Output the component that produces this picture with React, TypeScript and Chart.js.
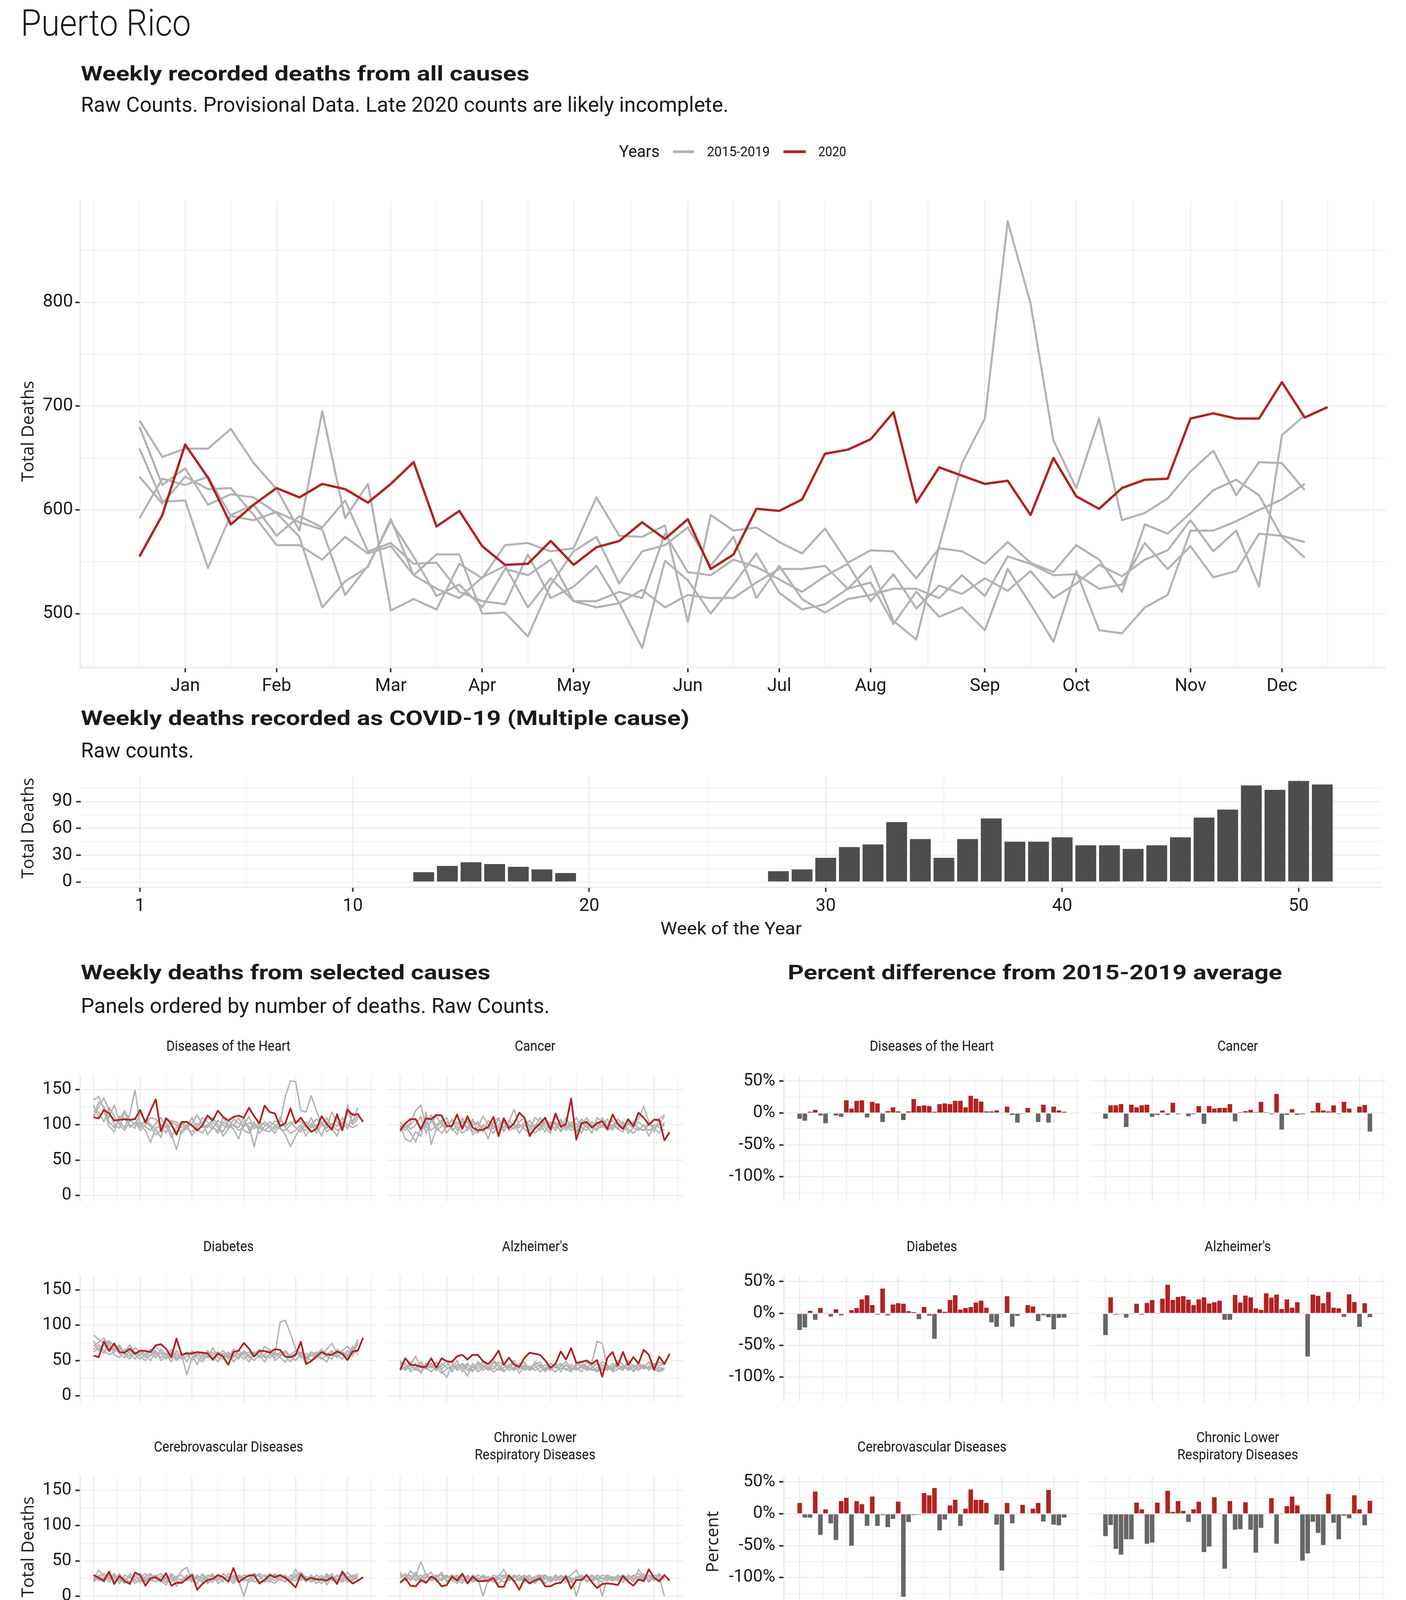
import React, { useEffect, useLayoutEffect, useRef } from "react";
import { Chart, registerables } from "chart.js";

Chart.register(...registerables);

// ---------------- fonts & colours ----------------
const COND = 'Roboto, "Liberation Sans Narrow", "Noto Sans", sans-serif';
const REG = '"Open Sans", "Liberation Sans", sans-serif';
const RED = "#B22222";
const GREY_LINE = "#B3B3B3";
const BAR_DARK = "#4D4D4D";
const NEG_GREY = "#666666";
const GRID = "#EBEBEB";
const TEXT = "#1A1A1A";

// ---------------- data: all causes (top panel) ----------------
const monthLabels = ["Jan", "Feb", "Mar", "Apr", "May", "Jun", "Jul", "Aug", "Sep", "Oct", "Nov", "Dec"];
const monthWeeks = [3, 7, 12, 16, 20, 25, 29, 33, 38, 42, 47, 51];

const all2020 = [555, 595, 663, 631, 586, 605, 621, 612, 625, 620, 607, 625, 646, 584, 599, 565, 547, 548, 570, 547, 564, 570, 588, 572, 591, 543, 557, 601, 599, 610, 654, 658, 668, 694, 607, 641, 633, 625, 628, 595, 650, 613, 601, 621, 629, 630, 688, 693, 688, 688, 723, 689, 699];
const all2015 = [686, 651, 659, 659, 678, 645, 620, 580, 695, 592, 625, 503, 514, 504, 548, 534, 566, 568, 560, 563, 612, 575, 574, 585, 492, 595, 580, 583, 569, 558, 582, 549, 561, 560, 534, 563, 560, 548, 569, 549, 540, 566, 552, 521, 586, 577, 597, 619, 629, 614, 574, 554];
const all2016 = [680, 624, 640, 605, 615, 612, 597, 574, 506, 531, 545, 591, 537, 557, 557, 500, 501, 478, 528, 560, 574, 529, 560, 566, 583, 546, 574, 515, 546, 514, 501, 514, 518, 524, 524, 515, 537, 517, 555, 548, 537, 538, 524, 528, 568, 543, 565, 535, 541, 577, 575, 569];
const all2017 = [659, 608, 609, 544, 595, 605, 575, 594, 583, 609, 560, 568, 548, 549, 521, 512, 509, 557, 515, 526, 546, 510, 467, 551, 532, 500, 528, 558, 520, 504, 509, 524, 546, 493, 475, 565, 645, 688, 878, 799, 667, 621, 688, 590, 597, 611, 637, 657, 614, 646, 645, 619];
const all2018 = [632, 606, 632, 620, 621, 595, 566, 566, 552, 574, 558, 565, 537, 524, 515, 535, 546, 506, 534, 512, 506, 510, 523, 506, 518, 515, 515, 530, 543, 543, 546, 524, 530, 490, 521, 497, 506, 484, 543, 509, 473, 541, 484, 481, 506, 518, 580, 580, 589, 600, 610, 625];
const all2019 = [592, 630, 624, 632, 594, 590, 598, 588, 581, 518, 546, 589, 555, 517, 528, 506, 543, 537, 552, 512, 512, 521, 515, 577, 540, 537, 552, 545, 533, 521, 536, 548, 512, 538, 505, 527, 519, 534, 522, 541, 515, 529, 547, 536, 552, 561, 590, 560, 580, 526, 672, 691];

// ---------------- data: COVID-19 weekly deaths (weeks 1-51) ----------------
const covidDeaths = [0, 0, 0, 0, 0, 0, 0, 0, 0, 0, 0, 0, 11, 18, 22, 20, 17, 14, 10, 0, 0, 0, 0, 0, 0, 0, 0, 12, 14, 27, 39, 42, 67, 48, 27, 48, 71, 45, 45, 50, 41, 41, 37, 41, 50, 72, 81, 108, 103, 113, 109];

// ---------------- data: selected causes (2020 = 53 weeks, 2015-2019 = 52 weeks) ----------------
const heart2020 = [110.5, 109, 121, 116, 106, 107, 108, 107, 108, 121, 103, 120, 136, 91, 109, 101, 86, 104, 104, 99, 92, 99, 113, 106, 120, 111, 106, 111, 113, 110, 124, 112, 102, 127, 118, 116, 98, 102, 123, 102, 110, 99, 90, 94, 112, 101, 93, 115, 92, 121, 114, 115, 104];
const heart2015 = [112, 125, 138, 120, 100, 95, 118, 108, 99, 104, 97, 92, 102, 110, 95, 98, 90, 100, 105, 98, 102, 96, 100, 94, 106, 99, 95, 100, 92, 97, 103, 99, 95, 92, 98, 105, 104, 140, 162, 161, 120, 118, 141, 120, 100, 95, 102, 98, 110, 100, 104, 112];
const heart2016 = [135, 140, 122, 110, 128, 104, 96, 115, 149, 100, 92, 75, 96, 98, 104, 88, 65, 92, 98, 110, 94, 88, 100, 104, 96, 90, 106, 98, 110, 92, 88, 100, 96, 104, 99, 93, 110, 96, 88, 92, 100, 84, 98, 108, 104, 96, 118, 104, 92, 128, 100, 108];
const heart2017 = [128, 110, 120, 98, 90, 112, 108, 100, 95, 118, 104, 98, 86, 92, 100, 82, 96, 104, 94, 90, 98, 104, 86, 96, 92, 110, 100, 94, 80, 104, 98, 69, 100, 92, 90, 98, 96, 86, 69, 84, 96, 92, 102, 88, 100, 110, 96, 84, 104, 94, 116, 110];
const heart2018 = [120, 118, 104, 125, 112, 100, 92, 105, 110, 96, 108, 100, 94, 82, 110, 104, 100, 88, 96, 102, 114, 100, 96, 110, 100, 84, 94, 108, 102, 98, 112, 94, 104, 100, 96, 88, 100, 98, 104, 96, 90, 104, 96, 100, 84, 104, 100, 92, 96, 100, 96, 100];
const heart2019 = [110, 132, 126, 104, 96, 108, 120, 96, 104, 92, 100, 110, 108, 100, 88, 106, 104, 96, 100, 84, 96, 110, 104, 98, 88, 104, 98, 100, 96, 110, 92, 104, 88, 98, 104, 100, 94, 92, 100, 106, 104, 96, 110, 94, 104, 90, 96, 110, 100, 118, 104, 124];

const cancer2020 = [92, 102, 108, 108, 94, 109, 108, 114, 113, 98, 98, 114.5, 94, 112, 96, 92, 93, 97, 111, 84, 109, 95, 102, 117, 110, 84, 95, 102, 110, 93, 116, 97, 101, 137, 79, 102, 104, 96, 102, 105, 94, 114.5, 101, 94, 108, 98, 117, 110, 100, 107, 107, 78, 89.5];
const cancer2015 = [98, 92, 104, 120, 128, 96, 104, 112, 100, 96, 108, 92, 100, 104, 90, 96, 112, 100, 94, 108, 96, 104, 122, 98, 100, 92, 110, 104, 96, 88, 112, 100, 96, 104, 92, 100, 110, 98, 104, 96, 100, 106, 94, 98, 104, 100, 108, 126, 104, 96, 100, 112];
const cancer2016 = [100, 80, 76, 90, 84, 118, 72, 96, 104, 110, 92, 98, 88, 94, 104, 100, 96, 80, 104, 96, 92, 100, 94, 104, 110, 96, 100, 92, 104, 98, 96, 108, 92, 100, 110, 96, 92, 104, 98, 100, 92, 96, 108, 100, 94, 88, 96, 92, 100, 108, 104, 98];
const cancer2017 = [96, 102, 94, 100, 112, 88, 108, 92, 98, 104, 96, 86, 110, 92, 100, 104, 90, 106, 98, 92, 110, 96, 102, 88, 100, 106, 94, 100, 90, 104, 100, 92, 110, 96, 102, 88, 104, 96, 92, 110, 98, 100, 94, 90, 102, 96, 104, 98, 92, 96, 88, 104];
const cancer2018 = [90, 98, 88, 76, 96, 104, 92, 100, 106, 88, 100, 104, 96, 108, 86, 92, 100, 96, 88, 100, 104, 92, 96, 100, 94, 88, 96, 110, 100, 94, 104, 90, 100, 92, 96, 108, 100, 88, 110, 104, 92, 100, 96, 104, 88, 96, 92, 100, 84, 100, 96, 92];
const cancer2019 = [104, 96, 100, 108, 92, 100, 114, 96, 88, 98, 106, 100, 104, 96, 108, 88, 100, 94, 104, 110, 90, 106, 98, 96, 104, 100, 88, 96, 108, 100, 92, 104, 96, 100, 88, 104, 96, 100, 94, 98, 108, 92, 104, 96, 100, 104, 94, 92, 104, 90, 108, 114];

const diabetes2020 = [57, 54.7, 77, 64, 74, 62, 61, 66.7, 59.5, 64, 63.5, 62, 71.5, 73, 66.7, 54.7, 81, 58, 60, 60, 62, 61, 60, 51.4, 60, 55.5, 44, 62, 64, 74.8, 66.7, 55.5, 63.5, 63.5, 61, 66, 65, 55.5, 54.7, 58, 76.4, 45, 49, 55.5, 62, 58.7, 58, 62.7, 59.5, 50.6, 62.7, 64, 82];
const diabetes2015 = [86, 80, 74, 78, 70, 66, 62, 72, 60, 58, 64, 56, 70, 62, 58, 66, 52, 60, 48, 64, 58, 62, 54, 68, 56, 60, 52, 66, 58, 62, 54, 60, 56, 70, 64, 58, 104, 107, 88, 66, 58, 54, 62, 58, 66, 56, 60, 54, 62, 58, 60, 64];
const diabetes2016 = [70, 76, 82, 70, 64, 72, 60, 56, 68, 62, 54, 66, 58, 60, 52, 62, 56, 58, 30, 54, 60, 56, 62, 50, 58, 64, 56, 54, 60, 52, 58, 62, 54, 58, 66, 50, 56, 62, 54, 60, 58, 46, 62, 56, 52, 58, 64, 56, 60, 54, 66, 72];
const diabetes2017 = [62, 68, 60, 76, 58, 54, 66, 60, 52, 64, 58, 50, 62, 54, 60, 48, 64, 56, 60, 50, 58, 52, 64, 56, 48, 60, 54, 60, 52, 64, 56, 50, 58, 48, 60, 54, 62, 56, 48, 58, 62, 56, 50, 60, 54, 48, 62, 58, 52, 64, 56, 76];
const diabetes2018 = [78, 64, 72, 62, 68, 60, 54, 64, 58, 52, 60, 62, 54, 66, 58, 60, 50, 56, 62, 58, 44, 60, 54, 58, 62, 56, 60, 48, 56, 60, 62, 58, 66, 54, 58, 62, 54, 48, 58, 64, 54, 60, 56, 62, 58, 66, 74, 60, 64, 70, 62, 80];
const diabetes2019 = [66, 72, 64, 58, 62, 70, 58, 52, 62, 56, 50, 58, 64, 50, 56, 54, 60, 52, 56, 62, 54, 48, 58, 62, 54, 52, 62, 56, 64, 58, 48, 60, 62, 56, 54, 60, 58, 64, 56, 50, 60, 52, 58, 54, 62, 56, 52, 66, 60, 56, 70, 58];

const alz2020 = [37, 53, 44, 43.4, 41, 41, 53, 40, 53, 49, 48, 56, 58, 51.4, 58, 58, 49, 45, 53, 64, 44, 54, 44, 41, 54, 61, 59.5, 58, 50, 39.4, 45.8, 62.7, 51.4, 67.5, 46.6, 48, 50, 45, 50.6, 27.3, 54, 62, 42.6, 62, 43.4, 54.7, 45.8, 65, 58, 37, 55.5, 45, 59.5];
const alz2015 = [48, 36, 44, 56, 40, 38, 46, 36, 42, 50, 34, 44, 40, 28, 46, 38, 44, 36, 48, 40, 34, 42, 50, 38, 44, 36, 48, 42, 34, 46, 40, 38, 44, 36, 42, 48, 40, 46, 77, 74, 40, 36, 44, 38, 46, 34, 42, 40, 48, 36, 40, 38];
const alz2016 = [50, 42, 38, 46, 32, 44, 40, 48, 36, 26, 44, 38, 46, 40, 34, 48, 42, 38, 50, 44, 36, 40, 46, 32, 42, 38, 44, 48, 36, 40, 46, 34, 44, 38, 40, 34, 48, 42, 36, 44, 38, 46, 40, 36, 50, 42, 38, 44, 36, 46, 42, 48];
const alz2017 = [44, 46, 34, 40, 48, 38, 42, 36, 46, 40, 38, 50, 34, 44, 40, 46, 36, 42, 38, 48, 44, 36, 40, 46, 38, 42, 36, 40, 44, 38, 34, 42, 48, 40, 36, 44, 38, 40, 46, 36, 42, 38, 50, 44, 36, 40, 46, 42, 38, 44, 36, 40];
const alz2018 = [40, 38, 48, 36, 44, 40, 34, 42, 38, 44, 50, 36, 40, 46, 36, 42, 48, 40, 34, 38, 46, 40, 36, 42, 48, 36, 40, 44, 38, 42, 40, 46, 36, 44, 38, 40, 42, 36, 40, 48, 44, 34, 38, 42, 40, 36, 44, 38, 42, 40, 48, 44];
const alz2019 = [36, 40, 42, 38, 34, 46, 44, 40, 32, 38, 42, 40, 44, 36, 42, 34, 40, 46, 42, 36, 40, 44, 38, 42, 36, 40, 44, 34, 40, 36, 42, 44, 38, 34, 46, 42, 36, 38, 34, 40, 36, 42, 44, 40, 38, 44, 36, 42, 40, 38, 34, 38];

const cerebro2020 = [30, 26, 22, 35, 17.4, 28.6, 21.4, 17.4, 33.4, 30, 15, 25.4, 27, 22, 32.6, 15, 19, 19, 24.6, 30, 9.3, 17.4, 23, 24.6, 30, 27, 20.6, 39.9, 19.8, 25.4, 29.4, 30, 18, 23, 30, 27, 30, 26, 19.8, 12.5, 31, 23, 26, 23.8, 23.8, 22, 27, 17.4, 35, 24.6, 18, 22, 27];
const cerebro2015 = [24, 37, 28, 20, 30, 26, 18, 32, 24, 28, 20, 26, 30, 22, 16, 28, 24, 36, 41, 22, 26, 30, 18, 24, 28, 20, 32, 26, 22, 0, 24, 28, 30, 20, 26, 32, 22, 28, 24, 38, 26, 22, 30, 24, 18, 28, 26, 22, 30, 24, 28, 32];
const cerebro2016 = [30, 22, 26, 32, 20, 28, 24, 18, 30, 22, 28, 32, 24, 20, 26, 30, 14, 24, 28, 20, 30, 22, 26, 32, 18, 24, 28, 22, 30, 26, 20, 24, 32, 28, 22, 18, 26, 30, 22, 28, 34, 26, 20, 24, 30, 16, 28, 24, 20, 26, 30, 24];
const cerebro2017 = [20, 28, 32, 24, 28, 18, 30, 26, 22, 20, 26, 22, 28, 32, 24, 20, 28, 30, 22, 26, 18, 32, 24, 20, 30, 26, 22, 28, 24, 30, 28, 20, 24, 30, 26, 22, 30, 24, 20, 32, 22, 28, 26, 18, 24, 30, 22, 28, 32, 20, 24, 28];
const cerebro2018 = [26, 24, 20, 30, 24, 32, 22, 28, 18, 26, 32, 24, 20, 28, 30, 24, 22, 18, 26, 32, 24, 20, 30, 28, 22, 32, 26, 18, 28, 24, 30, 28, 20, 24, 32, 26, 24, 20, 30, 26, 28, 24, 22, 30, 26, 24, 32, 20, 26, 28, 22, 26];
const cerebro2019 = [22, 30, 24, 26, 32, 22, 26, 20, 28, 32, 22, 30, 26, 24, 20, 32, 26, 22, 30, 24, 28, 26, 20, 30, 24, 28, 20, 30, 26, 22, 24, 32, 28, 22, 20, 30, 28, 26, 24, 22, 30, 20, 28, 26, 22, 32, 24, 30, 22, 34, 26, 30];

const clrd2020 = [19, 25.4, 15, 14, 23, 19, 27.8, 23.8, 14, 15.8, 27.8, 22, 31.8, 18, 27.8, 21.4, 21.4, 22, 26, 13.3, 13.3, 29.4, 21.4, 9.3, 24.6, 18, 22, 25.4, 14, 14, 18, 19, 27.8, 10.9, 23, 23, 30, 19.8, 11.7, 17.4, 18, 17.4, 15.8, 28.6, 20.6, 15, 23.8, 21.4, 38, 26, 21.4, 30, 22];
const clrd2015 = [30, 24, 36, 28, 49, 30, 22, 26, 34, 20, 28, 24, 18, 30, 22, 26, 0, 24, 20, 28, 38, 24, 30, 26, 20, 28, 24, 30, 18, 26, 22, 28, 20, 26, 0, 24, 30, 22, 28, 0, 26, 22, 30, 24, 28, 20, 38, 26, 22, 30, 28, 0];
const clrd2016 = [26, 32, 22, 30, 24, 28, 34, 20, 26, 30, 22, 28, 24, 20, 30, 26, 22, 28, 24, 18, 26, 30, 22, 24, 28, 20, 26, 22, 30, 24, 28, 20, 26, 30, 37, 22, 26, 30, 24, 20, 28, 24, 22, 30, 26, 24, 28, 22, 30, 26, 32, 24];
const clrd2017 = [34, 22, 28, 24, 30, 20, 26, 30, 22, 28, 24, 18, 28, 26, 20, 24, 28, 22, 30, 26, 20, 24, 28, 22, 26, 30, 18, 26, 24, 28, 22, 30, 24, 20, 26, 28, 22, 24, 30, 26, 22, 28, 24, 20, 30, 26, 22, 28, 24, 26, 20, 28];
const clrd2018 = [20, 28, 30, 22, 26, 32, 24, 28, 30, 22, 26, 30, 22, 28, 24, 30, 26, 20, 24, 30, 28, 22, 26, 30, 22, 24, 28, 30, 26, 22, 30, 24, 28, 26, 22, 30, 20, 28, 24, 30, 28, 22, 26, 30, 24, 28, 32, 24, 28, 22, 30, 26];
const clrd2019 = [28, 30, 24, 34, 20, 26, 28, 22, 24, 26, 30, 26, 32, 24, 28, 22, 30, 26, 20, 24, 30, 28, 20, 26, 30, 24, 22, 28, 30, 20, 26, 24, 30, 22, 28, 26, 30, 20, 26, 24, 30, 26, 28, 24, 22, 30, 26, 32, 20, 28, 24, 30];

const kidney2020 = [1, 14.8, 25.6, 12.7, 18, 21.6, 12.7, 22.5, 24.7, 11.7, 19.4, 17.3, 26.9, 13.3, 24.7, 14.8, 12.3, 19.4, 0, 19.4, 19.4, 17, 19.4, 0, 17, 16.4, 19.4, 16.4, 16.4, 21, 12.7, 26.5, 22.5, 17.3, 11.7, 19.4, 21, 17.9, 19.4, 24, 24, 16.4, 14.8, 17.9, 10.2, 17.9, 24, 19.4, 12.7, 17.9, 26.5, 16.4, 24.7];
const kidney2015 = [24, 18, 29, 20, 16, 22, 14, 20, 18, 24, 16, 20, 0, 18, 22, 16, 28, 14, 20, 16, 24, 12, 18, 20, 14, 28, 16, 20, 22, 14, 18, 20, 16, 22, 18, 14, 20, 26, 16, 22, 18, 20, 14, 24, 18, 22, 16, 20, 24, 14, 28, 20];
const kidney2016 = [16, 22, 18, 14, 24, 12, 20, 16, 22, 14, 20, 18, 16, 24, 0, 20, 14, 18, 22, 16, 12, 20, 24, 18, 16, 12, 20, 0, 18, 22, 16, 0, 20, 14, 18, 22, 16, 20, 14, 0, 18, 22, 16, 20, 14, 18, 22, 20, 16, 18, 20, 16];
const kidney2017 = [20, 14, 22, 26, 18, 20, 16, 24, 14, 20, 18, 22, 20, 16, 18, 14, 22, 0, 16, 20, 18, 0, 20, 16, 22, 18, 24, 16, 0, 20, 18, 14, 0, 18, 0, 20, 16, 22, 18, 16, 20, 14, 0, 18, 22, 16, 20, 14, 18, 22, 16, 20];
const kidney2018 = [18, 20, 16, 22, 14, 24, 18, 14, 20, 16, 22, 16, 14, 20, 16, 22, 18, 16, 20, 14, 22, 18, 16, 20, 18, 14, 18, 22, 20, 16, 14, 22, 18, 0, 16, 18, 22, 14, 20, 18, 22, 16, 20, 14, 18, 20, 16, 22, 18, 20, 24, 18];
const kidney2019 = [22, 16, 20, 18, 22, 16, 24, 18, 16, 22, 14, 20, 18, 14, 20, 18, 16, 22, 14, 20, 16, 22, 18, 14, 20, 16, 22, 18, 16, 24, 20, 18, 22, 16, 20, 0, 18, 20, 22, 14, 16, 18, 22, 20, 16, 14, 18, 20, 22, 16, 18, 22];

const flu2020 = [13.3, 14.8, 23.5, 20, 22.5, 25, 20, 14.8, 21, 27.2, 23, 28, 16.4, 17.3, 11.7, 19.4, 12.7, 10.2, 14.8, 9.6, 10.2, 11.1, 9.6, 10.2, 0, 11.7, 0, 12.3, 12.3, 17, 13.3, 13.3, 17.9, 0, 24, 9.6, 0, 17.9, 0, 20, 17.9, 0, 17, 13.3, 13.3, 17, 21, 14.8, 11.7, 20, 9.6, 21, 17];
const flu2015 = [24, 22, 26, 30, 20, 24, 28, 22, 18, 0, 16, 20, 14, 0, 18, 12, 16, 14, 10, 16, 0, 14, 12, 16, 10, 14, 12, 16, 14, 0, 12, 16, 14, 0, 18, 12, 14, 16, 30, 0, 18, 14, 16, 20, 14, 18, 16, 20, 14, 18, 22, 16];
const flu2016 = [20, 26, 22, 18, 28, 24, 20, 26, 22, 16, 18, 0, 20, 14, 0, 0, 0, 16, 12, 14, 18, 12, 14, 0, 16, 12, 14, 10, 16, 12, 14, 18, 12, 16, 0, 14, 18, 12, 14, 20, 16, 18, 14, 0, 0, 16, 22, 18, 16, 20, 18, 24];
const flu2017 = [18, 16, 20, 24, 22, 18, 26, 20, 24, 20, 14, 18, 16, 18, 12, 16, 14, 12, 16, 10, 14, 16, 10, 14, 12, 16, 10, 14, 12, 16, 18, 12, 16, 12, 14, 16, 12, 18, 16, 14, 22, 16, 18, 14, 16, 12, 18, 14, 0, 16, 24, 20];
const flu2018 = [26, 20, 18, 22, 26, 28, 22, 18, 20, 24, 16, 14, 18, 16, 14, 12, 16, 18, 14, 12, 10, 14, 16, 12, 14, 10, 16, 12, 14, 18, 12, 14, 10, 16, 12, 18, 14, 16, 20, 14, 12, 18, 20, 16, 14, 18, 20, 22, 16, 18, 20, 14];
const flu2019 = [22, 24, 28, 20, 24, 22, 18, 24, 16, 20, 22, 16, 14, 20, 16, 14, 12, 10, 18, 14, 16, 10, 14, 18, 12, 14, 18, 16, 12, 14, 16, 10, 18, 14, 16, 12, 16, 14, 18, 12, 16, 14, 12, 18, 20, 22, 18, 16, 20, 24, 26, 18];

const sept2020 = [0, 16, 16, 13, 13, 13, 17.6, 13, 17.6, 16, 15, 0.6, 8.3, 15, 14.5, 13, 0, 0, 15, 0, 13.9, 0, 8.3, 14.5, 0, 0, 12, 11.4, 15, 11.4, 18.2, 16, 16, 13.6, 0, 18.2, 15, 0, 11.4, 15, 0, 13, 15, 15, 12, 12, 18.2, 0, 14.5, 19, 13, 17.6, 22];
const sept2015 = [24, 20, 22, 18, 28, 0, 0, 16, 14, 18, 12, 16, 0, 14, 0, 18, 0, 0, 12, 16, 14, 0, 12, 16, 0, 14, 18, 0, 12, 16, 14, 12, 16, 18, 0, 14, 20, 0, 39, 26, 28, 20, 22, 27, 20, 0, 18, 25, 16, 20, 14, 18];
const sept2016 = [18, 22, 16, 20, 14, 12, 16, 18, 20, 14, 16, 12, 18, 16, 14, 12, 16, 14, 10, 14, 12, 16, 14, 12, 16, 14, 12, 10, 16, 14, 18, 12, 14, 16, 12, 18, 14, 20, 28, 22, 18, 24, 16, 20, 18, 14, 16, 20, 18, 16, 20, 24];
const sept2017 = [20, 14, 18, 16, 22, 18, 12, 14, 16, 12, 18, 14, 16, 12, 18, 14, 12, 16, 14, 10, 16, 12, 18, 14, 12, 16, 10, 14, 18, 12, 14, 16, 12, 14, 16, 10, 12, 16, 20, 18, 14, 16, 20, 14, 16, 12, 14, 18, 20, 14, 18, 16];
const sept2018 = [16, 18, 20, 22, 18, 14, 16, 12, 18, 16, 14, 18, 12, 16, 14, 16, 18, 12, 16, 14, 18, 14, 12, 18, 14, 12, 16, 14, 12, 18, 16, 14, 18, 12, 14, 16, 18, 14, 24, 16, 18, 14, 16, 22, 14, 18, 20, 16, 14, 18, 22, 20];
const sept2019 = [22, 16, 14, 18, 16, 20, 14, 18, 12, 14, 16, 12, 14, 18, 12, 14, 12, 18, 12, 16, 14, 18, 16, 10, 14, 18, 14, 16, 12, 14, 18, 16, 12, 14, 18, 12, 16, 18, 22, 14, 16, 20, 14, 16, 18, 22, 16, 14, 18, 22, 16, 12];

const orsp2020 = [13, 0, 0, 0, 13, 14, 11, 0, 0, 0, 12, 0, 0, 0, 0, 13, 0, 0, 0, 0, 12, 11, 0, 0, 0, 0, 0, 0, 0, 14, 11, 0, 13, 16, 0, 0, 0, 0, 14, 13, 14, 0, 0, 0, 0, 0, 0, 0, 0, 0, 14, 0, 11];
const orsp2015 = [12, 0, 10, 12, 0, 8, 12, 0, 10, 0, 12, 8, 0, 10, 12, 0, 8, 10, 0, 12, 10, 0, 8, 12, 0, 10, 0, 12, 8, 0, 10, 14, 0, 12, 10, 0, 8, 12, 10, 0, 12, 0, 10, 8, 0, 12, 10, 0, 8, 12, 10, 0];
const orsp2016 = [0, 10, 12, 0, 10, 12, 0, 8, 12, 10, 0, 10, 12, 0, 8, 10, 12, 0, 10, 0, 8, 12, 10, 0, 12, 8, 10, 0, 12, 10, 0, 8, 12, 10, 0, 12, 10, 0, 8, 12, 0, 10, 12, 0, 10, 0, 8, 12, 0, 10, 12, 8];
const orsp2017 = [10, 12, 0, 8, 12, 0, 10, 12, 0, 8, 10, 0, 12, 8, 0, 10, 0, 12, 8, 10, 0, 12, 0, 10, 8, 0, 12, 10, 0, 12, 16, 0, 10, 0, 12, 8, 0, 10, 12, 0, 8, 12, 0, 10, 12, 8, 0, 10, 12, 0, 8, 12];
const orsp2018 = [8, 0, 12, 10, 0, 10, 8, 0, 12, 0, 8, 12, 0, 10, 12, 8, 0, 10, 12, 0, 10, 8, 0, 12, 10, 0, 8, 12, 10, 0, 12, 10, 0, 8, 12, 0, 10, 12, 0, 10, 12, 8, 0, 12, 0, 10, 12, 0, 10, 8, 0, 10];
const orsp2019 = [12, 10, 0, 12, 8, 0, 12, 10, 0, 12, 0, 8, 10, 12, 0, 0, 10, 8, 0, 12, 0, 10, 12, 8, 0, 12, 0, 8, 10, 12, 0, 12, 8, 0, 10, 12, 0, 8, 10, 12, 0, 8, 10, 0, 12, 0, 10, 8, 12, 0, 10, 0];

// ---------------- data: percent difference from 2015-2019 average (weeks 1-52) ----------------
const heartPct = [-9, -12, 2, 5, -4, -16, -1, -4, -6, 20, 7, 19, 20, -7, 17.5, 15, -14, 3, 9, 2.5, -11, 2.5, 22, 11, 12, 11, 2, 14, 15, 14, 19, 19, 9, 27, 22.5, 18, 2.5, 2.5, 4, -1, 10, -3, -15, -1.5, 8, 0, -14, 13, -15, 10, 4, 2];
const cancerPct = [-9, 12, 12, 14, -22, 13, 9, 12, 13, -6, -3, 4, -3, 16, -2, 0, -5, -2, 11, -17, 11, 7, 8, 8, 14, -13, 1.5, 3, 5, 1.5, 17.5, 1.5, -2, 30, -26, -3, 6, -3, -2, 0, 3, 16, 4, 2.5, 12, -1.5, 17.5, 7, 0, 10, 12.5, -29];
const diabetesPct = [-26, -22, 4, -10, 8.5, 0.5, -5, 6.5, -3, 0, 5, 8.5, 22, 28.5, 13, -2, 39, -3, 14, 16, 15, 3.5, 2, -9, 10, -3.5, -40, 6.5, 2.5, 21, 28.5, 6, 8.5, 10, 17, 20, 9, -14, -21, -0.5, 27, -21, -4, 0, 13, 11, -12, -3, -6, -25, -7, -6.5];
const alzPct = [-34, 25, -2, -0.5, -6.5, -0.5, 15, -2, 16.5, 21, 0.5, 23, 45, 21, 26, 27, 21.5, 13, 22, 25, 15.5, 17.5, 20, -10, -10, 29, 17, 28, 25, 8, 5.5, 31.5, 24.5, 29.5, 7, 22, 9, 17.5, 1, -67.5, 29.5, 27.5, 16, 33.5, 9, 8, -5.5, 30, 18, -21, 16, -6];
const cerebroPct = [17, -6, -6, 35, -33, 7, -15, -41, 20, 25, -50, 20, 15, -19, 27, -19, -2, -21, -8, 19, -130, -13, -2, -1.5, 32.5, 29, 40.5, -26, -9, 13, 22, -19, 8, 38, 22, 22, 17, 0, -17, -89, 17, -15, -1, 14, 1, 8, 17, -12, 37.5, -17, -18, -6];
const clrdPct = [-35, -17.5, -55, -64, -40, -40, 17.5, 7, -47, -45, 17.5, -1, 36, 3, 20, 4.5, -12.5, 7, 19, -60, -51.5, 26, 0.5, -86, 20, -25, -24, 18, -25, -61, -22, 0, 24.5, -47, -1, 12, 27, 13, -73.5, -62, -12.5, -30, -49, 31, -14, -40, -3, -7, 29, 7, -18, 20.5];
const kidneyPct = [0, -26, 6, -55, -10, 0.5, -35, 10, 21.5, -53.5, 22, 4.5, 50, -20, 46, -7, -72, 20, 0, 23, 10, 1.5, 10, 0, 11.5, -7.5, 9, 12, 0, 14, -28, 48, 28, 4, -17, 27, 33, 3, 8, 29, 35, -14, -7, 13, -45, 11, 30, 2.5, -37, -2, 26, 11.5];
const fluPct = [-55, -36, 12, -26.5, 15, 12.5, 5.5, -62.5, 31.5, 32, 26, 45, 9, 10.5, -21, 17, -31, -40, -9, -30, -27.5, -11, -22, -18, 0, -25, 0, 1.5, -10, 19.5, -21, -6, 37, 0, 44, -34, 0, 19.5, 0, 25, 19, 0, 26, -25, -27, 10, -3, -11.5, -33, 15.5, -100, 0.5];
const septPct = [0, -19, -7.7, -40, -54, -29, 19, -8, 22, 7.7, 10.6, 0, -30, 21.5, -21.5, 2.3, 0, 0, -13.5, 0, -9.6, 0, -45, 16, 0, 0, -10.6, -11.5, 17.3, -34, 32, 0, 9.8, 15.4, 0, 10.8, 9.8, 0, -111, -8.8, 0, -5.8, 3.8, -10.8, -40, -25, 6.5, 0, -5.6, 35, -35, 23.3];
const orspPct = [5, 0, 0, 0, 0, 0, -25, 0, 0, 0, -18.5, 0, 0, 0, 0, -18.5, 0, 0, 0, 0, -9, 0, 0, 0, 0, 0, 0, 0, 0, 15, -10, 0, -46, 14, 0, 0, 0, 0, 10, 0, 23, 0, 0, 0, 0, 0, 0, 0, 0, 0, -11, 0];

const causeNames = ["Diseases of the Heart", "Cancer", "Diabetes", "Alzheimer's", "Cerebrovascular Diseases", "Chronic Lower\nRespiratory Diseases", "Kidney Diseases", "Influenza and Pneumonia", "Septicemia", "Other Respiratory\ndisease"];

const causes = [
  { red: heart2020, grey: [heart2015, heart2016, heart2017, heart2018, heart2019], pct: heartPct },
  { red: cancer2020, grey: [cancer2015, cancer2016, cancer2017, cancer2018, cancer2019], pct: cancerPct },
  { red: diabetes2020, grey: [diabetes2015, diabetes2016, diabetes2017, diabetes2018, diabetes2019], pct: diabetesPct },
  { red: alz2020, grey: [alz2015, alz2016, alz2017, alz2018, alz2019], pct: alzPct },
  { red: cerebro2020, grey: [cerebro2015, cerebro2016, cerebro2017, cerebro2018, cerebro2019], pct: cerebroPct },
  { red: clrd2020, grey: [clrd2015, clrd2016, clrd2017, clrd2018, clrd2019], pct: clrdPct },
  { red: kidney2020, grey: [kidney2015, kidney2016, kidney2017, kidney2018, kidney2019], pct: kidneyPct },
  { red: flu2020, grey: [flu2015, flu2016, flu2017, flu2018, flu2019], pct: fluPct },
  { red: sept2020, grey: [sept2015, sept2016, sept2017, sept2018, sept2019], pct: septPct },
  { red: orsp2020, grey: [orsp2015, orsp2016, orsp2017, orsp2018, orsp2019], pct: orspPct },
];

// ---------------- helpers ----------------
const pts = (ys: number[]) => ys.map((y, i) => ({ x: i + 1, y }));

function axis(o: {
  pos: "x" | "y"; min: number; max: number; majors: number[]; minors: number[];
  show: boolean; size: number; fs: number; pad: number; fmt: (v: number) => string; border: boolean;
}) {
  const maj = new Set(o.majors);
  const isMaj = (c: any) => c && c.tick && maj.has(c.tick.value);
  return {
    type: "linear",
    position: o.pos === "x" ? "bottom" : "left",
    min: o.min,
    max: o.max,
    offset: false,
    afterBuildTicks: (s: any) => {
      s.ticks = [...o.majors, ...o.minors].sort((a, b) => a - b).map((v) => ({ value: v }));
    },
    afterFit: (s: any) => {
      if (o.pos === "x") s.height = o.size;
      else s.width = o.size;
    },
    ticks: {
      autoSkip: false, maxRotation: 0, minRotation: 0, padding: o.pad, color: TEXT,
      font: { family: COND, size: o.fs },
      callback: (v: any) => (o.show && maj.has(v) ? o.fmt(v) : ""),
    },
    grid: {
      offset: false,
      color: GRID,
      lineWidth: (c: any) => (isMaj(c) ? 2.6 : 1.4),
      drawTicks: o.show,
      tickLength: 12,
      tickWidth: 4,
      tickColor: (c: any) => (isMaj(c) ? "#333333" : "rgba(0,0,0,0)"),
    },
    border: { display: o.border, color: "#E6E6E6", width: 2.6 },
  };
}

function makeSpec(p: {
  L: number; T: number; W: number; H: number; padL: number; padT: number; padR: number; padB: number;
  type: string; datasets: any[]; x: any; y: any;
}) {
  return {
    box: { x: p.L - p.padL, y: p.T - p.padT, w: p.padL + p.W + p.padR, h: p.padT + p.H + p.padB },
    config: {
      type: p.type,
      data: { datasets: p.datasets },
      options: {
        animation: false,
        responsive: false,
        maintainAspectRatio: false,
        devicePixelRatio: 1,
        events: [],
        layout: { autoPadding: false, padding: { top: p.padT, right: p.padR, left: 0, bottom: 0 } },
        plugins: { legend: { display: false }, tooltip: { enabled: false }, title: { display: false } },
        scales: { x: p.x, y: p.y },
      },
    },
  };
}

function lineDs(data: number[], color: string, width: number) {
  return {
    data: pts(data), borderColor: color, backgroundColor: color, borderWidth: width,
    pointRadius: 0, tension: 0, fill: false, borderJoinStyle: "round", borderCapStyle: "butt",
  };
}

function ChartCanvas({ s }: { s: any }) {
  const ref = useRef<HTMLCanvasElement | null>(null);
  useEffect(() => {
    if (!ref.current) return;
    const c = new Chart(ref.current, s.config);
    return () => c.destroy();
  }, []);
  return (
    <canvas
      ref={ref}
      width={s.box.w}
      height={s.box.h}
      style={{ position: "absolute", left: s.box.x, top: s.box.y, width: s.box.w, height: s.box.h }}
    />
  );
}

// Text positioned by its baseline; condensed horizontally to a target width (w) or by a factor (sx).
function Txt(p: {
  x: number; y: number; fs: number; text: string; bold?: boolean; weight?: number; family?: string;
  anchor?: "start" | "middle" | "end"; w?: number; sx?: number;
}) {
  const ref = useRef<HTMLDivElement | null>(null);
  useLayoutEffect(() => {
    const el = ref.current;
    if (!el) return;
    const nat = el.offsetWidth || 1;
    const sx = p.w ? p.w / nat : p.sx ?? 0.84;
    const width = nat * sx;
    const tx = p.anchor === "middle" ? -width / 2 : p.anchor === "end" ? -width : 0;
    el.style.transform = `translateX(${tx}px) scaleX(${sx})`;
  });
  return (
    <div
      ref={ref}
      style={{
        position: "absolute", left: p.x, top: p.y - 0.85 * p.fs, fontSize: p.fs, lineHeight: 1,
        fontFamily: p.family || COND, fontWeight: p.bold ? 700 : p.weight ?? 400, color: TEXT, whiteSpace: "nowrap",
        transformOrigin: "0 0",
      }}
    >
      {p.text}
    </div>
  );
}

function VTxt(p: { cx: number; cy: number; fs: number; text: string; family?: string }) {
  return (
    <div
      style={{
        position: "absolute", left: p.cx, top: p.cy, fontSize: p.fs, lineHeight: 1, fontFamily: p.family || REG,
        color: TEXT, whiteSpace: "nowrap", transform: "translate(-50%, -50%) rotate(-90deg)",
      }}
    >
      {p.text}
    </div>
  );
}

// ---------------- layout ----------------
const SM_TOP = 2737, SM_STEP = 513, SM_H = 367;
const LEFT_COLS = [205, 990], SM_W = 759;
const PCT_COLS = [2007, 2790], PCT_W = 758;
const smallMaj = [1, 10, 20, 30, 40, 50];
const smallMin = [5.5, 15, 25, 35, 45, 54.5];

export default function App() {
  const specs: any[] = [];

  // top: all causes
  specs.push(
    makeSpec({
      L: 205, T: 500, W: 3344, H: 1209, padL: 200, padT: 20, padR: 40, padB: 100, type: "line",
      datasets: [
        lineDs(all2020, RED, 6),
        lineDs(all2015, GREY_LINE, 5.3),
        lineDs(all2016, GREY_LINE, 5.3),
        lineDs(all2017, GREY_LINE, 5.3),
        lineDs(all2018, GREY_LINE, 5.3),
        lineDs(all2019, GREY_LINE, 5.3),
      ],
      x: axis({
        pos: "x", min: -1.6, max: 55.56, majors: monthWeeks,
        minors: [-1, 1, 5, 9.5, 14, 18, 22.5, 27, 31, 35.5, 40, 44.5, 49, 53, 55],
        show: true, size: 100, fs: 46, pad: 9,
        fmt: (v) => monthLabels[monthWeeks.indexOf(v)], border: true,
      }),
      y: axis({
        pos: "y", min: 448, max: 898, majors: [500, 600, 700, 800], minors: [450, 550, 650, 750, 850],
        show: true, size: 200, fs: 46, pad: 6, fmt: (v) => String(v), border: true,
      }),
    })
  );

  // covid bars
  specs.push(
    makeSpec({
      L: 207, T: 1969, W: 3330, H: 302, padL: 200, padT: 20, padR: 40, padB: 80, type: "bar",
      datasets: [
        {
          data: pts(covidDeaths), backgroundColor: BAR_DARK, borderWidth: 0,
          barPercentage: 0.88, categoryPercentage: 1.0,
        },
      ],
      x: axis({
        pos: "x", min: -1.5, max: 53.5, majors: smallMaj, minors: [5.5, 15, 25, 35, 45],
        show: true, size: 80, fs: 46, pad: 10, fmt: (v) => String(v), border: true,
      }),
      y: axis({
        pos: "y", min: -5.75, max: 118.5, majors: [0, 30, 60, 90], minors: [15, 45, 75, 105],
        show: true, size: 200, fs: 46, pad: 10, fmt: (v) => String(v), border: false,
      }),
    })
  );

  causes.forEach((c, i) => {
    const row = Math.floor(i / 2), col = i % 2;
    const T = SM_TOP + SM_STEP * row;
    const bottom = row === 4;
    // raw counts panel
    specs.push(
      makeSpec({
        L: LEFT_COLS[col], T, W: SM_W, H: SM_H, padL: col === 0 ? 200 : 8, padT: 20, padR: 8, padB: bottom ? 90 : 8,
        type: "line",
        datasets: [lineDs(c.red, RED, 4.5), ...c.grey.map((g) => lineDs(g, GREY_LINE, 3.6))],
        x: axis({
          pos: "x", min: -1.6, max: 55.6, majors: smallMaj, minors: smallMin,
          show: bottom, size: bottom ? 90 : 8, fs: 44, pad: 3, fmt: (v) => String(v), border: bottom,
        }),
        y: axis({
          pos: "y", min: -8.4, max: 169.6, majors: [0, 50, 100, 150], minors: [25, 75, 125],
          show: col === 0, size: col === 0 ? 200 : 8, fs: 44, pad: 10, fmt: (v) => String(v), border: col === 0,
        }),
      })
    );
    // percent panel
    specs.push(
      makeSpec({
        L: PCT_COLS[col], T, W: PCT_W, H: SM_H, padL: col === 0 ? 200 : 8, padT: 20, padR: 8, padB: bottom ? 90 : 8,
        type: "bar",
        datasets: [
          {
            data: pts(c.pct),
            backgroundColor: c.pct.map((v) => (v >= 0 ? RED : NEG_GREY)),
            borderWidth: 0, barPercentage: 0.88, categoryPercentage: 1.0,
          },
        ],
        x: axis({
          pos: "x", min: -2.05, max: 55.05, majors: smallMaj, minors: smallMin,
          show: bottom, size: bottom ? 90 : 8, fs: 44, pad: 3, fmt: (v) => String(v), border: bottom,
        }),
        y: axis({
          pos: "y", min: -138.7, max: 58.8, majors: [-100, -50, 0, 50], minors: [-125, -75, -25, 25],
          show: col === 0, size: col === 0 ? 200 : 8, fs: 44, pad: 10, fmt: (v) => `${v}%`, border: col === 0,
        }),
      })
    );
  });

  const strips: any[] = [];
  causeNames.forEach((name, i) => {
    const row = Math.floor(i / 2), col = i % 2;
    const T = SM_TOP + SM_STEP * row;
    const lines = name.split("\n");
    [LEFT_COLS[col] + SM_W / 2, PCT_COLS[col] + PCT_W / 2].forEach((cx, k) => {
      if (lines.length === 1) {
        strips.push(<Txt key={`s${i}-${k}`} x={cx} y={T - 46} fs={36} sx={0.92} text={lines[0]} anchor="middle" />);
      } else {
        strips.push(<Txt key={`s${i}-${k}a`} x={cx} y={T - 70} fs={36} sx={0.92} text={lines[0]} anchor="middle" />);
        strips.push(<Txt key={`s${i}-${k}b`} x={cx} y={T - 26} fs={36} sx={0.92} text={lines[1]} anchor="middle" />);
      }
    });
  });

  return (
    <div style={{ position: "absolute", left: 0, top: 0, width: 3600, height: 5400, background: "#ffffff", overflow: "hidden" }}>
      {specs.map((s, i) => (
        <ChartCanvas key={i} s={s} />
      ))}

      <Txt x={53} y={92} fs={94} w={436} weight={300} text="Puerto Rico" />
      <Txt x={207} y={207} fs={52} w={1148} bold text="Weekly recorded deaths from all causes" />
      <Txt x={207} y={287} fs={53} w={1658} text="Raw Counts. Provisional Data. Late 2020 counts are likely incomplete." />

      {/* legend */}
      <Txt x={1585} y={403} fs={42} w={104} text="Years" />
      <div style={{ position: "absolute", left: 1723, top: 385, width: 54, height: 7, background: GREY_LINE }} />
      <Txt x={1810} y={401} fs={35} w={161} text="2015-2019" />
      <div style={{ position: "absolute", left: 2006, top: 385, width: 57, height: 7, background: RED }} />
      <Txt x={2095} y={401} fs={35} w={72} text="2020" />

      <VTxt cx={69} cy={1104} fs={44} text="Total Deaths" />

      <Txt x={207} y={1857} fs={52} w={1558} bold text="Weekly deaths recorded as COVID-19 (Multiple cause)" />
      <Txt x={207} y={1940} fs={53} w={290} text="Raw counts." />
      <VTxt cx={69} cy={2120} fs={44} text="Total Deaths" />
      <Txt x={1872} y={2392} fs={44} w={362} text="Week of the Year" anchor="middle" />

      <Txt x={207} y={2508} fs={52} w={1048} bold text="Weekly deaths from selected causes" />
      <Txt x={207} y={2594} fs={53} w={1201} text="Panels ordered by number of deaths. Raw Counts." />
      <Txt x={2017} y={2508} fs={52} w={1266} bold text="Percent difference from 2015-2019 average" />

      {strips}

      <VTxt cx={69} cy={3960} fs={44} text="Total Deaths" />
      <VTxt cx={1822} cy={3947} fs={44} text="Percent" />

      <Txt x={977} y={5270} fs={44} w={356} text="Week of the Year" anchor="middle" />
      <Txt x={2778} y={5270} fs={44} w={356} text="Week of the Year" anchor="middle" />

      <Txt x={3549} y={5363} fs={40} w={1220} text="Graph: @kjhealy Data: CDC. This graph was made on February 21, 2024." anchor="end" />
    </div>
  );
}
